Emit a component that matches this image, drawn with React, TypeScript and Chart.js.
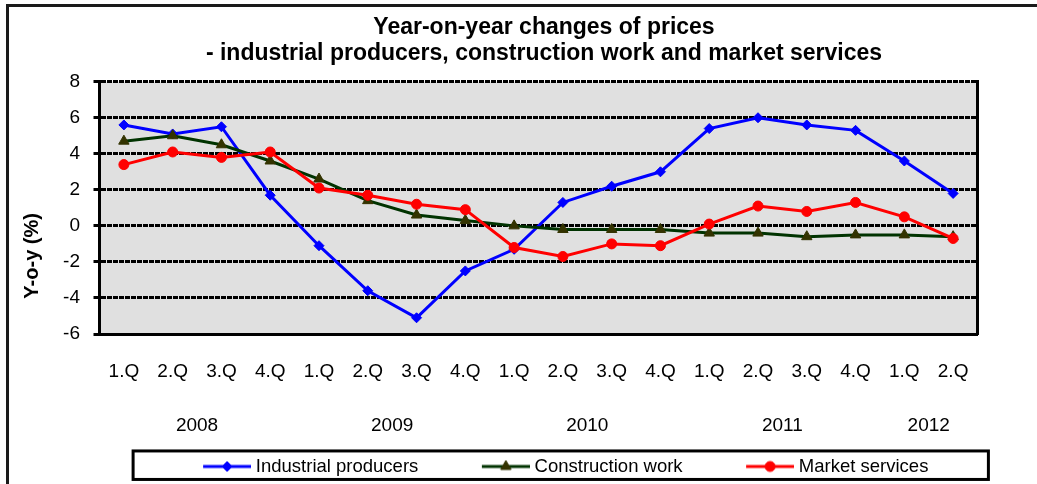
import React, { useEffect, useRef } from 'react';
import { Chart, registerables } from 'chart.js';

Chart.register(...registerables);

// ---- data ----
const quarterLabels = ['1.Q', '2.Q', '3.Q', '4.Q', '1.Q', '2.Q', '3.Q', '4.Q', '1.Q', '2.Q', '3.Q', '4.Q', '1.Q', '2.Q', '3.Q', '4.Q', '1.Q', '2.Q'];
const yearLabels = ['2008', '2009', '2010', '2011', '2012'];
const quartersPerYear = [4, 4, 4, 4, 2];
const industrialProducers = [5.6, 5.1, 5.5, 1.7, -1.1, -3.6, -5.1, -2.5, -1.3, 1.3, 2.2, 3.0, 5.4, 6.0, 5.6, 5.3, 3.6, 1.8];
const constructionWork = [4.7, 5.0, 4.5, 3.6, 2.6, 1.4, 0.6, 0.3, 0.0, -0.2, -0.2, -0.2, -0.4, -0.4, -0.6, -0.5, -0.5, -0.6];
const marketServices = [3.4, 4.1, 3.8, 4.1, 2.1, 1.7, 1.2, 0.9, -1.2, -1.7, -1.0, -1.1, 0.1, 1.1, 0.8, 1.3, 0.5, -0.7];
const seriesNames = ['Industrial producers', 'Construction work', 'Market services'];
const titleLines = ['Year-on-year changes of prices', '- industrial producers, construction work and market services'];
const yAxisTitle = 'Y-o-y (%)';
const yMin = -6;
const yMax = 8;
const yStep = 2;

const FONT = "'Liberation Sans', Arial, Helvetica, sans-serif";
const W = 1076;
const H = 500;
const LEGEND_BOX = 87; // legend symbol slot width
const LEGEND_IMG = 96; // legend symbol image width (line sits in its right 48px)

// centre of each year group, in category units
const yearCenters: number[] = (() => {
  const out: number[] = [];
  let start = 0;
  for (const n of quartersPerYear) {
    out.push(start + (n - 1) / 2);
    start += n;
  }
  return out;
})();

function makeLegendImage(lineColor: string, markerColor: string, shape: string, r: number) {
  const c = document.createElement('canvas');
  c.width = LEGEND_IMG;
  c.height = 16;
  const ctx = c.getContext('2d')!;
  const x0 = LEGEND_IMG - 48;
  const cx = x0 + 24;
  const cy = 8;
  ctx.strokeStyle = lineColor;
  ctx.lineWidth = 3;
  ctx.beginPath();
  ctx.moveTo(x0, cy);
  ctx.lineTo(LEGEND_IMG, cy);
  ctx.stroke();
  ctx.fillStyle = markerColor;
  ctx.strokeStyle = markerColor;
  ctx.lineWidth = 1;
  ctx.beginPath();
  if (shape === 'rectRot') {
    ctx.moveTo(cx - r, cy);
    ctx.lineTo(cx, cy - r);
    ctx.lineTo(cx + r, cy);
    ctx.lineTo(cx, cy + r);
    ctx.closePath();
  } else if (shape === 'triangle') {
    ctx.moveTo(cx, cy - r);
    ctx.lineTo(cx + Math.sin((2 * Math.PI) / 3) * r, cy + r / 2);
    ctx.lineTo(cx - Math.sin((2 * Math.PI) / 3) * r, cy + r / 2);
    ctx.closePath();
  } else {
    ctx.arc(cx, cy, r, 0, Math.PI * 2);
  }
  ctx.fill();
  ctx.stroke();
  return c;
}

const decorPlugin = {
  id: 'decor',
  beforeDraw(chart: any) {
    const { ctx, width, height, chartArea } = chart;
    ctx.save();
    ctx.fillStyle = '#ffffff';
    ctx.fillRect(0, 0, width, height);
    ctx.fillStyle = '#e0e0e0';
    ctx.fillRect(chartArea.left, chartArea.top, chartArea.right - chartArea.left, chartArea.bottom - chartArea.top);
    ctx.strokeStyle = '#1a1a1a';
    ctx.lineWidth = 3;
    ctx.strokeRect(1.5, 1.5, width - 3, height - 3);
    ctx.restore();
  },
  afterDraw(chart: any) {
    const { ctx, chartArea } = chart;
    // y-axis title
    ctx.save();
    ctx.translate(26.5, (chartArea.top + chartArea.bottom) / 2 + 48);
    ctx.rotate(-Math.PI / 2);
    ctx.font = `bold 20px ${FONT}`;
    ctx.fillStyle = '#000';
    ctx.textAlign = 'center';
    ctx.textBaseline = 'middle';
    ctx.fillText(yAxisTitle, 0, 0);
    ctx.restore();
    // legend frame
    const hb = chart.legend && chart.legend.legendHitBoxes;
    if (hb && hb.length) {
      const first = hb[0];
      const last = hb[hb.length - 1];
      const cy = first.top + first.height / 2;
      const visibleStart = first.left + LEGEND_BOX / 2 + LEGEND_IMG / 2 - 48;
      const left = visibleStart - 70;
      const right = last.left + last.width + 60;
      ctx.save();
      ctx.strokeStyle = '#000';
      ctx.lineWidth = 3;
      ctx.strokeRect(left, cy - 15.5, right - left, 28.5);
      ctx.restore();
    }
  },
};

export default function App() {
  const ref = useRef<HTMLCanvasElement>(null);
  useEffect(() => {
    const canvas = ref.current;
    if (!canvas) return;
    Chart.defaults.font.family = FONT;
    const legendImages = [
      makeLegendImage('#0000ff', '#0000ff', 'rectRot', 5),
      makeLegendImage('#003300', '#333300', 'triangle', 6),
      makeLegendImage('#ff0000', '#ff0000', 'circle', 5),
    ];
    const chart = new Chart(canvas, {
      type: 'line',
      data: {
        labels: quarterLabels,
        datasets: [
          {
            label: seriesNames[0],
            data: industrialProducers,
            borderColor: '#0000ff',
            backgroundColor: '#0000ff',
            borderWidth: 3,
            pointStyle: 'rectRot',
            pointRadius: 5,
            pointBorderWidth: 1,
            pointBackgroundColor: '#0000ff',
            pointBorderColor: '#0000ff',
            tension: 0,
            order: 3,
          },
          {
            label: seriesNames[1],
            data: constructionWork,
            borderColor: '#003300',
            backgroundColor: '#333300',
            borderWidth: 3,
            pointStyle: 'triangle',
            pointRadius: 6,
            pointBorderWidth: 1,
            pointBackgroundColor: '#333300',
            pointBorderColor: '#333300',
            tension: 0,
            order: 2,
          },
          {
            label: seriesNames[2],
            data: marketServices,
            borderColor: '#ff0000',
            backgroundColor: '#ff0000',
            borderWidth: 3,
            pointStyle: 'circle',
            pointRadius: 5,
            pointBorderWidth: 1,
            pointBackgroundColor: '#ff0000',
            pointBorderColor: '#ff0000',
            tension: 0,
            order: 1,
          },
        ],
      },
      options: {
        responsive: false,
        animation: false,
        layout: { padding: { left: 0, right: 0, top: 0, bottom: 18.3 } },
        scales: {
          x: {
            type: 'category',
            position: 'bottom',
            offset: true,
            grid: { display: false, drawTicks: false },
            border: { display: true, color: '#000', width: 3 },
            ticks: {
              color: '#000',
              font: { size: 19, family: FONT },
              padding: 26,
              autoSkip: false,
              maxRotation: 0,
            },
            afterFit: (s: any) => {
              s.height = 50;
            },
          },
          x2: {
            type: 'linear',
            axis: 'x',
            position: 'bottom',
            min: -0.5,
            max: quarterLabels.length - 0.5,
            grid: { display: false, drawTicks: false },
            border: { display: false },
            afterBuildTicks: (s: any) => {
              s.ticks = yearCenters.map((v) => ({ value: v }));
            },
            ticks: {
              color: '#000',
              font: { size: 19, family: FONT },
              padding: 30,
              autoSkip: false,
              maxRotation: 0,
              callback: (_v: any, i: number) => yearLabels[i],
            },
            afterFit: (s: any) => {
              s.height = 53.2;
            },
          },
          y: {
            type: 'linear',
            position: 'left',
            min: yMin,
            max: yMax,
            ticks: {
              stepSize: yStep,
              color: '#000',
              font: { size: 19, family: FONT },
              padding: 13.5,
            },
            grid: {
              color: '#000',
              lineWidth: 3,
              tickLength: 6,
              tickWidth: 3,
              tickColor: '#000',
              tickBorderDash: [5, 1],
            },
            border: { display: true, color: '#000', width: 3, dash: [5, 1] },
            afterFit: (s: any) => {
              s.width = 93.5;
            },
          },
          y2: {
            type: 'linear',
            position: 'right',
            ticks: { display: false },
            grid: { display: false, drawTicks: false },
            border: { display: true, color: '#000', width: 3 },
            afterFit: (s: any) => {
              s.width = W - 971.5;
            },
          },
        },
        plugins: {
          title: {
            display: true,
            text: titleLines,
            color: '#000',
            font: { size: 23, weight: 'bold', family: FONT, lineHeight: 26 / 23 },
            padding: { top: 10.2, bottom: 15.5 },
          },
          legend: {
            display: true,
            position: 'bottom',
            labels: {
              usePointStyle: true,
              pointStyleWidth: LEGEND_BOX,
              boxHeight: 18.5,
              color: '#000',
              font: { size: 18.5, family: FONT },
              padding: 20,
              sort: (a: any, b: any) => a.datasetIndex - b.datasetIndex,
              generateLabels: (c: any) => {
                const items = (Chart.defaults.plugins.legend.labels as any).generateLabels(c);
                return items.map((it: any) => ({ ...it, pointStyle: legendImages[it.datasetIndex] }));
              },
            },
          },
          tooltip: { enabled: false },
        },
      } as any,
      plugins: [decorPlugin],
    });
    return () => chart.destroy();
  }, []);

  return (
    <div style={{ position: 'fixed', left: 0, top: 0, width: 1037, height: 484, overflow: 'hidden', background: '#fff' }}>
      <div style={{ position: 'absolute', left: 6, top: 4, width: W, height: H }}>
        <canvas ref={ref} width={W} height={H} style={{ display: 'block', width: W, height: H }} />
      </div>
    </div>
  );
}
